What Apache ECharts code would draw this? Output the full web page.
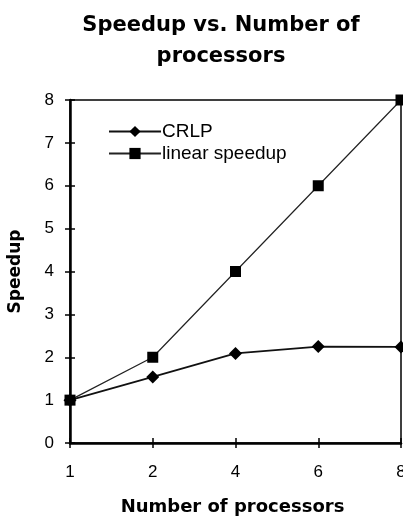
<!DOCTYPE html>
<html><head><meta charset="utf-8">
<script src="https://cdn.jsdelivr.net/npm/echarts@6/dist/echarts.min.js"></script>
<style>html,body{margin:0;padding:0;background:#fff}#c{width:403px;height:516px}</style>
</head><body><div id="c"></div>
<script>
const categories = ['1', '2', '4', '6', '8'];
const crlp = [1, 1.54, 2.09, 2.25, 2.24];
const linear = [1, 2, 4, 6, 8];
const yTicks = [0, 1, 2, 3, 4, 5, 6, 7, 8];

const chart = echarts.init(document.getElementById('c'), null, {renderer: 'canvas'});
const font = '"Liberation Sans", Arial, sans-serif';
const heavy = '"DejaVu Sans", sans-serif';
chart.setOption({
  backgroundColor: '#fff',
  animation: false,
  title: {
    text: 'Speedup vs. Number of\nprocessors',
    left: 216, top: 5, textAlign: 'center',
    textStyle: {fontFamily: heavy, fontWeight: 'bold', fontSize: 21, lineHeight: 31, color: '#000'}
  },
  legend: {
    left: 103, top: 117, orient: 'vertical', itemWidth: 52, itemHeight: 14, itemGap: 3,
    textStyle: {fontFamily: font, fontSize: 19, color: '#000', padding: [0,0,0,-4]},
    data: ['CRLP', 'linear speedup']
  },
  grid: {left: 70, right: 2, top: 100, bottom: 73, show: true, borderColor: '#000', borderWidth: 1.5,
    containLabel: false, outerBoundsMode: 'none'},
  xAxis: [{
    type: 'category', data: categories, boundaryGap: false,
    name: 'Number of processors', nameLocation: 'middle', nameGap: 55,
    nameTextStyle: {fontFamily: heavy, fontWeight: 'bold', fontSize: 18, color: '#000', padding: [0,0,0,-6]},
    axisLine: {lineStyle: {color: '#000', width: 2.5}},
    axisTick: {show: true, length: 5, alignWithLabel: true, lineStyle: {color: '#000', width: 1.5}},
    axisLabel: {fontFamily: font, fontSize: 17, color: '#000', margin: 21}
  }, {
    type: 'category', data: categories, boundaryGap: false, position: 'bottom', offset: 0,
    axisLine: {show: false},
    axisTick: {show: true, inside: true, length: 5, lineStyle: {color: '#000', width: 1.5}},
    axisLabel: {show: false}
  }],
  yAxis: [{
    type: 'value', min: 0, max: 8, interval: 1,
    name: 'Speedup', nameLocation: 'middle', nameGap: 46,
    nameTextStyle: {fontFamily: heavy, fontWeight: 'bold', fontSize: 17, color: '#000'},
    axisLine: {show: true, lineStyle: {color: '#000', width: 2.5}},
    axisTick: {show: true, length: 5, lineStyle: {color: '#000', width: 1.5}},
    axisLabel: {fontFamily: font, fontSize: 17, color: '#000', margin: 16,
      formatter: v => yTicks.includes(v) ? String(v) : ''},
    splitLine: {show: false}
  }, {
    type: 'value', min: 0, max: 8, interval: 1, position: 'left',
    axisLine: {show: false},
    axisTick: {show: true, inside: true, length: 5, lineStyle: {color: '#000', width: 1.5}},
    axisLabel: {show: false}, splitLine: {show: false}
  }],
  series: [{
    name: 'CRLP', type: 'line', data: crlp, symbol: 'diamond', symbolSize: 13,
    itemStyle: {color: '#000'}, lineStyle: {color: '#111', width: 1.8}
  }, {
    name: 'linear speedup', type: 'line', data: linear, symbol: 'rect', symbolSize: 11,
    itemStyle: {color: '#000'}, lineStyle: {color: '#222', width: 1.2}
  }]
});
</script></body></html>
